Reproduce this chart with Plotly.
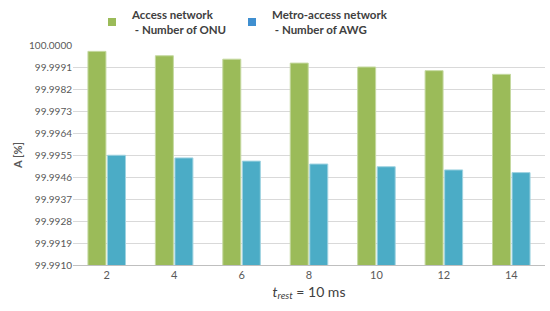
import plotly.graph_objects as go

categories = ["2", "4", "6", "8", "10", "12", "14"]
access_onu = [99.99974, 99.99956, 99.99942, 99.99926, 99.99910, 99.99895, 99.99880]
metro_awg = [99.99549, 99.99538, 99.99525, 99.99513, 99.99502, 99.99489, 99.99478]
tick_vals = [round(99.9910 + 0.0009 * k, 4) for k in range(11)]
tick_text = ["%.4f" % v for v in tick_vals]

green = "#9BBB59"
blue = "#4BACC6"
font_family = "Lato, 'Open Sans', sans-serif"

fig = go.Figure()
fig.add_trace(go.Bar(x=categories, y=access_onu, marker=dict(color=green, line=dict(color="#c5d9a0", width=1)),
                     showlegend=False))
fig.add_trace(go.Bar(x=categories, y=metro_awg, marker=dict(color=blue, line=dict(color="#9fd3e1", width=1)),
                     showlegend=False))
fig.add_trace(go.Scatter(x=[None], y=[None], mode="markers", legend="legend",
                         marker=dict(symbol="square", size=8, color=green),
                         name="<b>Access network<br> - Number of ONU</b>"))
fig.add_trace(go.Scatter(x=[None], y=[None], mode="markers", legend="legend2",
                         marker=dict(symbol="square", size=8, color="#3f8fd0"),
                         name="<b>Metro-access network<br> - Number of AWG</b>"))

leg_common = dict(orientation="h", yref="container", y=0.998, yanchor="top", xref="container", xanchor="left",
                  font=dict(size=11.5, color="#404040"), itemwidth=30, valign="middle",
                  bgcolor="rgba(0,0,0,0)")

fig.update_layout(
    width=550, height=311,
    margin=dict(l=72.5, r=5, t=45, b=46, autoexpand=False),
    paper_bgcolor="white", plot_bgcolor="white",
    barmode="group", bargap=0.42, bargroupgap=0.08,
    font=dict(family=font_family, color="#595959"),
    legend=dict(x=92 / 550, **leg_common),
    legend2=dict(x=232 / 550, **leg_common),
    xaxis=dict(type="category", showgrid=False, showline=True, linecolor="#bfbfbf", linewidth=1,
               ticks="", tickfont=dict(size=11, color="#595959"), automargin=False,
               title=dict(text="<i>t</i><sub><i>rest</i></sub> = 10 ms", font=dict(size=14, color="#404040"), standoff=6)),
    yaxis=dict(range=[99.9910, 100.0000], tickvals=tick_vals, ticktext=tick_text, automargin=False,
               showgrid=True, gridcolor="#d9d9d9", gridwidth=1, zeroline=False, showline=False,
               tickfont=dict(size=10, color="#595959"), ticks="", ticklen=0,
               title=dict(text="<b>A [%]</b>", font=dict(size=11, color="#595959"), standoff=4)),
)

fig.write_html("out.html", config={"displayModeBar": False},
               post_script="document.body.style.margin='0';document.body.style.overflow='hidden';")
